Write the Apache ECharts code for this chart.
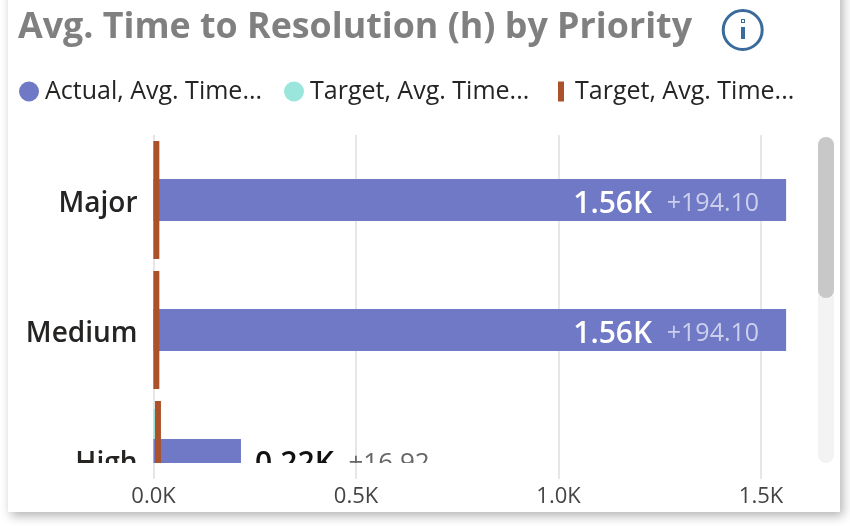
<!DOCTYPE html>
<html>
<head>
<meta charset="utf-8">
<style>
  html, body { margin: 0; padding: 0; background: #fff; overflow: hidden; }
  #card {
    position: absolute; left: 8px; top: -30px; width: 832px; height: 542px;
    background: #fff; overflow: hidden;
  }
  #shadow {
    position: absolute; left: 8px; top: -30px; width: 832px; height: 542px;
    box-shadow: 3px 4px 10px rgba(0,0,0,0.3);
  }
  #chart { position: absolute; left: -8px; top: 30px; width: 850px; height: 526px; }
</style>
<script src="https://cdn.jsdelivr.net/npm/echarts@6/dist/echarts.min.js"></script>
</head>
<body>
<div id="shadow"></div>
<div id="card"><div id="chart"></div></div>
<script>
var titleText = 'Avg. Time to Resolution (h) by Priority';
var categories = ['Major', 'Medium', 'High'];
var actualValues = [1562, 1562, 216];
var targetValues = [5, 5, 5];
var markerValues = [7, 7, 11];
var deltaLabels = ['+194.10', '+194.10', '+16.92'];
var seriesNames = ['Actual', 'Target', 'Target marker'];
var legendLabels = ['Actual, Avg. Time...', 'Target, Avg. Time...', 'Target, Avg. Time...'];
var xTicks = { min: 0, max: 1600, interval: 500 };

var FONT = '"Open Sans"';
var BLUE = '#7079c6', TEAL = '#9ae5dc', BROWN = '#ab522b', ICON = '#3a6b9b';

function legendFor(i, left, top, icon, w, h, pad) {
  return {
    left: left, top: top, icon: icon, itemWidth: w, itemHeight: h,
    data: [seriesNames[i]],
    formatter: function () { return legendLabels[i]; },
    textStyle: { fontFamily: FONT, fontSize: 25, color: '#252423', padding: [0, 0, 0, pad] }
  };
}

// label sits inside the long bars, outside the short ones
function actualItem(v, i) {
  var inside = v > 500;
  return {
    value: v,
    label: {
      position: inside ? 'insideRight' : 'right',
      distance: inside ? 27 : 14,
      formatter: '{' + (inside ? 'v' : 'vd') + '|' + (v / 1000).toFixed(2) + 'K}  {' +
        (inside ? 'd' : 'dd') + '|' + deltaLabels[i] + '}'
    }
  };
}

var myChart = echarts.init(document.getElementById('chart'));

var option = {
  animation: false,
  title: {
    text: titleText, left: 13, top: 5,
    textStyle: { fontFamily: FONT, fontSize: 35.8, fontWeight: 'bold', color: '#808080' }
  },
  legend: [
    legendFor(0, 14, 74, 'circle', 20, 20, 1),
    legendFor(1, 279, 74, 'circle', 20, 20, 1),
    legendFor(2, 553, 74, 'rect', 6, 20, 6)
  ],
  grid: [
    { left: 153.5, top: 135, width: 648, height: 390 },
    { left: 153.5, top: 463, width: 648, height: 16 }
  ],
  xAxis: [
    {
      gridIndex: 0, type: 'value', min: xTicks.min, max: xTicks.max, interval: xTicks.interval,
      axisLine: { show: false }, axisTick: { show: false }, axisLabel: { show: false },
      splitLine: { showMaxLine: false, lineStyle: { color: '#e6e6e6', width: 2 } }
    },
    {
      gridIndex: 1, type: 'value', min: xTicks.min, max: xTicks.max, interval: xTicks.interval, z: 6,
      axisLine: { show: false }, axisTick: { show: false },
      axisLabel: {
        showMaxLabel: false, margin: 7, fontFamily: FONT, fontSize: 22, color: '#444',
        formatter: function (v) { return (v / 1000).toFixed(1) + 'K'; }
      },
      splitLine: { showMaxLine: false, lineStyle: { color: '#e6e6e6', width: 2 } }
    }
  ],
  yAxis: [
    {
      gridIndex: 0, type: 'category', inverse: true, data: categories,
      axisLine: { show: false }, axisTick: { show: false },
      axisLabel: {
        margin: 16,
        formatter: '{a|{value}}',
        rich: {
          a: { padding: [8, 0, 0, 0], fontFamily: FONT, fontSize: 28, fontWeight: 600, color: '#252423' }
        }
      }
    },
    {
      gridIndex: 0, type: 'category', inverse: true, data: categories, show: false
    },
    {
      gridIndex: 1, type: 'category', data: [''], show: false
    }
  ],
  series: [
    {
      name: seriesNames[1], type: 'bar', xAxisIndex: 0, yAxisIndex: 1, z: 1,
      barWidth: 102, data: targetValues, itemStyle: { color: TEAL }
    },
    {
      name: seriesNames[0], type: 'bar', xAxisIndex: 0, yAxisIndex: 0, z: 2,
      barWidth: 42, data: actualValues.map(actualItem), itemStyle: { color: BLUE },
      label: {
        show: true,
        offset: [0, 4],
        rich: {
          v: { fontFamily: FONT, fontSize: 30, fontWeight: 600, color: '#fff' },
          d: { fontFamily: FONT, fontSize: 25, color: '#cdd0ec', padding: [0, 0, 0, 8] },
          vd: { fontFamily: FONT, fontSize: 30, fontWeight: 600, color: '#111' },
          dd: { fontFamily: FONT, fontSize: 26, color: '#666', padding: [0, 0, 0, 8] }
        }
      }
    },
    {
      name: seriesNames[2], type: 'scatter', xAxisIndex: 0, yAxisIndex: 0, z: 3,
      symbol: 'rect', symbolSize: [6, 118],
      data: markerValues.map(function (v, i) { return [v, i]; }),
      itemStyle: { color: BROWN, opacity: 1 }
    }
  ],
  graphic: [
    // visual's viewport cuts the rows off here
    {
      type: 'rect', z: 5, silent: true,
      shape: { x: 8, y: 463, width: 832, height: 50 },
      style: { fill: '#fff' }
    },
    // scrollbar
    {
      type: 'rect', z: 7, silent: true,
      shape: { x: 818, y: 137, width: 16, height: 326, r: 8 },
      style: { fill: '#f3f3f3' }
    },
    {
      type: 'rect', z: 8, silent: true,
      shape: { x: 818, y: 137, width: 16, height: 161, r: 8 },
      style: { fill: '#c8c8c8' }
    },
    // info icon
    {
      type: 'circle', z: 8, silent: true,
      shape: { cx: 742.7, cy: 30, r: 19.5 },
      style: { fill: '#fff', stroke: ICON, lineWidth: 3 }
    },
    {
      type: 'rect', z: 9, silent: true,
      shape: { x: 741, y: 27, width: 4, height: 12 },
      style: { fill: ICON }
    },
    {
      type: 'rect', z: 9, silent: true,
      shape: { x: 741, y: 19, width: 4, height: 4 },
      style: { fill: ICON }
    },
    {
      type: 'rect', z: 10, silent: true,
      shape: { x: 742, y: 20, width: 2, height: 2 },
      style: { fill: '#fff' }
    }
  ]
};

myChart.setOption(option);
</script>
</body>
</html>
